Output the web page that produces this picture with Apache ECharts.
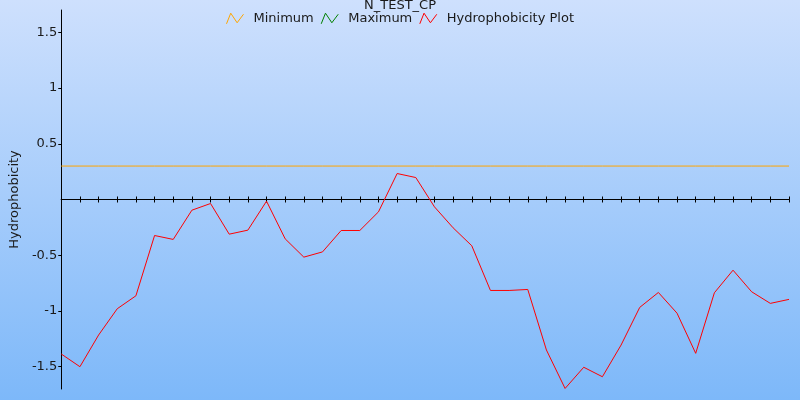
<!DOCTYPE html>
<html>
<head>
<meta charset="utf-8">
<script src="https://cdn.jsdelivr.net/npm/echarts@6/dist/echarts.min.js"></script>
<style>
html,body{margin:0;padding:0;}
#chart{width:800px;height:400px;}
</style>
</head>
<body>
<div id="chart"></div>
<script>
var titleText = 'N_TEST_CP';
var yAxisName = 'Hydrophobicity';
var seriesNames = ['Minimum', 'Maximum', 'Hydrophobicity Plot'];
var positions = [1,2,3,4,5,6,7,8,9,10,11,12,13,14,15,16,17,18,19,20,21,22,23,24,25,26,27,28,29,30,31,32,33,34,35,36,37,38,39,40];
var hydrophobicity = [-1.386, -1.50, -1.216, -0.98, -0.864, -0.323, -0.358, -0.096, -0.036, -0.311,
  -0.275, -0.015, -0.353, -0.517, -0.47, -0.278, -0.278, -0.111, 0.233, 0.197,
  -0.066, -0.254, -0.415, -0.816, -0.816, -0.807, -1.35, -1.695, -1.505, -1.59,
  -1.306, -0.968, -0.834, -1.02, -1.38, -0.837, -0.634, -0.828, -0.932, -0.896];
var minimumLine = [0.3,0.3,0.3,0.3,0.3,0.3,0.3,0.3,0.3,0.3,0.3,0.3,0.3,0.3,0.3,0.3,0.3,0.3,0.3,0.3,
  0.3,0.3,0.3,0.3,0.3,0.3,0.3,0.3,0.3,0.3,0.3,0.3,0.3,0.3,0.3,0.3,0.3,0.3,0.3,0.3];
var maximumLine = [];
var yTickValues = [-1.5, -1, -0.5, 0.5, 1, 1.5];
var yMin = -1.7, yMax = 1.7;

var font = 'DejaVu Sans';
var zig = 'path://M0,10 L4,0 L10,9 L16,1';
var chart = echarts.init(document.getElementById('chart'), null, {renderer: 'canvas'});
chart.setOption({
  animation: false,
  backgroundColor: {type: 'linear', x: 0, y: 0, x2: 0, y2: 1,
    colorStops: [{offset: 0, color: '#cee0fd'}, {offset: 1, color: '#7db8f9'}]},
  textStyle: {fontFamily: font},
  title: {
    text: titleText, left: 'center', top: -1, padding: 0,
    textStyle: {fontFamily: font, fontSize: 13, fontWeight: 'normal', color: '#1a1a1a'}
  },
  legend: {
    top: 12, left: 'center', itemWidth: 17, itemHeight: 11, itemGap: 7,
    padding: 0,
    textStyle: {fontFamily: font, fontSize: 13, color: '#1a1a1a', padding: [0, 0, 0, 5]},
    data: [
      {name: seriesNames[0], icon: zig, itemStyle: {color: 'rgba(0,0,0,0)', borderColor: '#ffa500', borderWidth: 1}},
      {name: seriesNames[1], icon: zig, itemStyle: {color: 'rgba(0,0,0,0)', borderColor: '#008000', borderWidth: 1}},
      {name: seriesNames[2], icon: zig, itemStyle: {color: 'rgba(0,0,0,0)', borderColor: '#ff0000', borderWidth: 1}}
    ]
  },
  grid: {left: 59, right: 11, top: 10, bottom: 11, containLabel: false},
  xAxis: [{
    type: 'category', data: positions, boundaryGap: false, position: 'bottom',
    axisLine: {onZero: true, onZeroAxisIndex: 0, lineStyle: {color: '#000', width: 1}},
    axisTick: {show: true, length: 3, inside: false, interval: 0, lineStyle: {color: '#000'}},
    axisLabel: {show: false}, splitLine: {show: false}
  }, {
    type: 'category', data: positions, boundaryGap: false, position: 'top',
    axisLine: {onZero: true, onZeroAxisIndex: 1, lineStyle: {color: '#000', width: 1}},
    axisTick: {show: true, length: 3, inside: false, interval: 0, lineStyle: {color: '#000'}},
    axisLabel: {show: false}, splitLine: {show: false}
  }],
  yAxis: [{
    type: 'value', min: yMin, max: yMax, position: 'left',
    name: yAxisName, nameLocation: 'middle', nameGap: 37, nameRotate: 90,
    nameTextStyle: {fontFamily: font, fontSize: 13, color: '#1a1a1a'},
    axisLine: {show: true, onZero: false, lineStyle: {color: '#000', width: 1}},
    axisTick: {show: true, length: 3, customValues: yTickValues, lineStyle: {color: '#000'}},
    axisLabel: {show: true, margin: 4, customValues: yTickValues, fontFamily: font, fontSize: 13, color: '#1a1a1a'},
    splitLine: {show: false}
  }, {
    type: 'value', min: yMin, max: yMax, position: 'right',
    axisLine: {show: false, onZero: false}, axisTick: {show: false},
    axisLabel: {show: false}, splitLine: {show: false}
  }],
  series: [{
    name: seriesNames[0], type: 'line', data: minimumLine, showSymbol: false, symbol: 'none',
    lineStyle: {color: '#ffa500', width: 1}, itemStyle: {color: '#ffa500'}, z: 2
  }, {
    name: seriesNames[1], type: 'line', data: maximumLine, showSymbol: false, symbol: 'none',
    lineStyle: {color: '#008000', width: 1}, itemStyle: {color: '#008000'}, z: 3
  }, {
    name: seriesNames[2], type: 'line', data: hydrophobicity, showSymbol: false, symbol: 'none',
    lineStyle: {color: '#ff0000', width: 1}, itemStyle: {color: '#ff0000'}, z: 4
  }]
});
</script>
</body>
</html>
